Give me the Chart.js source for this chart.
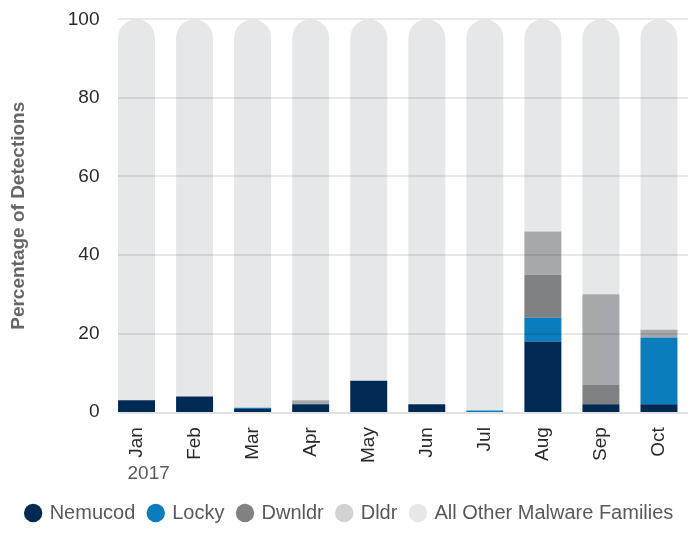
<!DOCTYPE html>
<html>
<head>
<meta charset="utf-8">
<script src="https://cdn.jsdelivr.net/npm/chart.js@4/dist/chart.umd.min.js"></script>
<style>
  html, body { margin: 0; padding: 0; background: #fff; }
  #wrap { width: 688px; height: 541px; position: relative; }
</style>
</head>
<body>
<div id="wrap"><canvas id="malwareChart"></canvas></div>
<script>
// months shown along the bottom
const months = ['Jan', 'Feb', 'Mar', 'Apr', 'May', 'Jun', 'Jul', 'Aug', 'Sep', 'Oct'];
const yTicks = [0, 20, 40, 60, 80, 100];

// percentage of detections
const nemucod = [3, 4, 0.8, 2, 8, 2, 0, 18, 2, 2];
const locky   = [0, 0, 0.3, 0, 0, 0, 0.4, 6, 0, 17];
const dwnldr  = [0, 0, 0, 0, 0, 0, 0, 11, 5, 0];
const dldr    = [0, 0, 0, 1, 0, 0, 0, 11, 23, 2];
// whatever is left up to 100
const allOther = months.map((m, i) => 100 - nemucod[i] - locky[i] - dwnldr[i] - dldr[i]);

const barColors = ['#002a54', '#0a7dbd', '#808184', '#a7a8ac', '#e6e7e8'];
const legendColors = ['#002a54', '#0a7dbd', '#808184', '#d1d2d4', '#e6e7e8'];
const FONT = '"Liberation Sans", Arial, sans-serif';

// grid lines start at the first bar and are drawn over the bars, see-through
const overGrid = {
  id: 'overGrid',
  afterLayout(chart) {
    // legend in the original sits a bit right of centre
    chart.legend.left += 5;
    chart.legend.right += 5;
  },
  afterDatasetsDraw(chart) {
    const ctx = chart.ctx;
    const y = chart.scales.y;
    const first = chart.getDatasetMeta(0).data[0];
    const left = first.x - first.width / 2;
    const right = chart.chartArea.right;
    ctx.save();
    yTicks.forEach(v => {
      const py = Math.round(y.getPixelForValue(v));
      if (v === 0) {
        ctx.strokeStyle = '#e1e2e3';
        ctx.lineWidth = 2;
        ctx.beginPath();
        ctx.moveTo(left, py + 1);
        ctx.lineTo(right, py + 1);
        ctx.stroke();
      } else {
        ctx.strokeStyle = 'rgba(0,0,0,0.12)';
        ctx.lineWidth = 1.5;
        ctx.beginPath();
        ctx.moveTo(left, py);
        ctx.lineTo(right, py);
        ctx.stroke();
      }
    });
    ctx.restore();
  },
  // the "2017" under Jan
  afterDraw(chart) {
    const ctx = chart.ctx;
    const x = chart.scales.x.getPixelForValue(0);
    ctx.save();
    ctx.font = '19px ' + FONT;
    ctx.fillStyle = '#58595b';
    ctx.textAlign = 'left';
    ctx.textBaseline = 'middle';
    ctx.fillText('2017', x - 9, chart.chartArea.bottom + 62);
    ctx.restore();
  }
};

const ds = (label, data, i) => ({
  label: label,
  data: data,
  backgroundColor: barColors[i],
  borderWidth: 0,
  barPercentage: 0.637,
  categoryPercentage: 1
});

const otherSet = ds('All Other Malware Families', allOther, 4);
otherSet.borderRadius = { topLeft: 20, topRight: 20, bottomLeft: 0, bottomRight: 0 };
otherSet.borderSkipped = false;

new Chart(document.getElementById('malwareChart'), {
  type: 'bar',
  data: {
    labels: months,
    datasets: [
      ds('Nemucod', nemucod, 0),
      ds('Locky', locky, 1),
      ds('Dwnldr', dwnldr, 2),
      ds('Dldr', dldr, 3),
      otherSet
    ]
  },
  options: {
    responsive: true,
    maintainAspectRatio: false,
    animation: false,
    layout: { padding: { top: 6, right: 0, left: 2, bottom: 8 } },
    plugins: {
      tooltip: { enabled: false },
      legend: {
        position: 'bottom',
        labels: {
          usePointStyle: true,
          pointStyle: 'circle',
          boxWidth: 13,
          boxHeight: 13,
          padding: 14,
          color: '#58595b',
          font: { size: 20, family: FONT },
          generateLabels(chart) {
            return chart.data.datasets.map((d, i) => ({
              text: d.label,
              fillStyle: legendColors[i],
              strokeStyle: legendColors[i],
              lineWidth: 0,
              pointStyle: 'circle',
              fontColor: '#58595b',
              datasetIndex: i
            }));
          }
        }
      }
    },
    scales: {
      x: {
        stacked: true,
        grid: { display: false, drawTicks: false },
        border: { display: false },
        ticks: {
          color: '#2a2a2a',
          minRotation: 90,
          maxRotation: 90,
          padding: 15,
          font: { size: 19, family: FONT }
        },
        afterFit(scale) {
          scale.height += 11;
          scale.paddingLeft = 0;
          scale.paddingRight = 0;
        }
      },
      y: {
        stacked: true,
        min: 0,
        max: 100,
        afterBuildTicks(scale) { scale.ticks = yTicks.map(v => ({ value: v })); },
        grid: { display: false, drawTicks: false },
        border: { display: false },
        ticks: {
          color: '#2a2a2a',
          padding: 8,
          font: { size: 19, family: FONT }
        },
        title: {
          display: true,
          text: 'Percentage of Detections',
          color: '#666',
          padding: { top: 5, bottom: 30 },
          font: { size: 19, weight: 'bold', family: FONT }
        }
      }
    }
  },
  plugins: [overGrid]
});
</script>
</body>
</html>
